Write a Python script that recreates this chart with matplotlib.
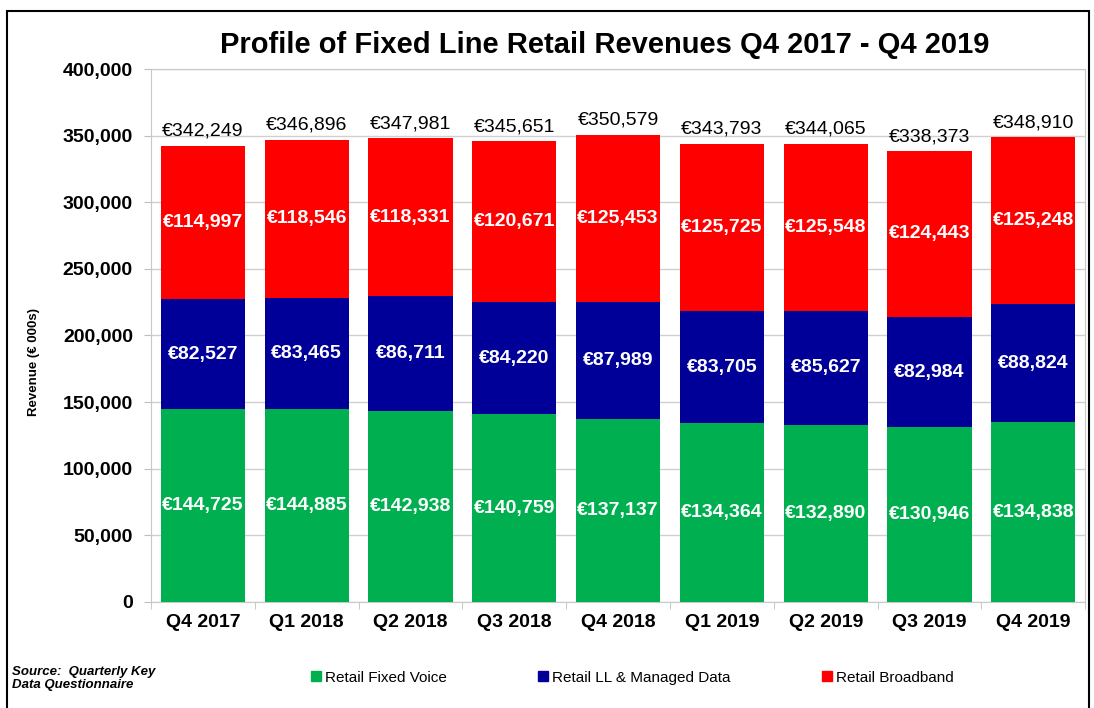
import matplotlib
matplotlib.use('Agg')
import matplotlib.pyplot as plt
from matplotlib.lines import Line2D
from matplotlib.patches import Rectangle
import numpy as np

plt.rcParams['font.family'] = ['Liberation Sans', 'DejaVu Sans']

quarters = ['Q4 2017', 'Q1 2018', 'Q2 2018', 'Q3 2018', 'Q4 2018',
            'Q1 2019', 'Q2 2019', 'Q3 2019', 'Q4 2019']
fixed_voice = [144725, 144885, 142938, 140759, 137137, 134364, 132890, 130946, 134838]
ll_managed = [82527, 83465, 86711, 84220, 87989, 83705, 85627, 82984, 88824]
broadband = [114997, 118546, 118331, 120671, 125453, 125725, 125548, 124443, 125248]
totals = [342249, 346896, 347981, 345651, 350579, 343793, 344065, 338373, 348910]

series_names = ['Retail Fixed Voice', 'Retail LL & Managed Data', 'Retail Broadband']
colors = ['#00B050', '#000099', '#FF0000']

fig = plt.figure(figsize=(10.94, 7.08), dpi=100)
ax = fig.add_axes([0.138, 0.150, 0.854, 0.7525])

x = np.arange(len(quarters))
w = 0.81
bottom = np.zeros(len(quarters))
for vals, col in zip([fixed_voice, ll_managed, broadband], colors):
    vals = np.array(vals)
    ax.bar(x, vals, w, bottom=bottom, color=col, zorder=3)
    for xi, b, v in zip(x, bottom, vals):
        ax.text(xi, b + v / 2, '€{:,}'.format(v), ha='center', va='center',
                color='white', fontsize=14, fontweight='bold', zorder=4)
    bottom += vals

for xi, t in zip(x, totals):
    ax.text(xi, t + 4500, '€{:,}'.format(t), ha='center', va='bottom',
            color='black', fontsize=14, zorder=4)

ax.set_xlim(-0.5, len(quarters) - 0.5)
ax.set_ylim(0, 400000)
ax.set_yticks(np.arange(0, 400001, 50000))
ax.set_yticklabels(['{:,}'.format(v) for v in range(0, 400001, 50000)],
                   fontsize=14, fontweight='bold')
ax.set_xticks(x)
ax.set_xticklabels(quarters, fontsize=14, fontweight='bold')
ax.set_xticks(np.arange(-0.5, len(quarters)), minor=True)
ax.tick_params(axis='x', which='major', length=0, pad=9)
ax.tick_params(axis='x', which='minor', length=5, color='#bfbfbf')
ax.tick_params(axis='y', length=5, color='#bfbfbf', pad=8)
ax.grid(axis='y', color='#d0d0d0', linewidth=1, zorder=0)
for s in ax.spines.values():
    s.set_color('#c8c8c8')

fig.text(0.031, 1 - 362 / 708, 'Revenue (€ 000s)', rotation=90, ha='center',
         va='center', fontsize=9.5, fontweight='bold')

fig.text(0.553, 0.936, 'Profile of Fixed Line Retail Revenues Q4 2017 - Q4 2019',
         ha='center', va='center', fontsize=21, fontweight='bold')

handles = [Line2D([], [], marker='s', linestyle='none', color=c, markersize=6.5)
           for c in colors]
fig.legend(handles, series_names, loc='center', bbox_to_anchor=(0.578, 0.043),
           ncol=3, frameon=False, fontsize=11, handlelength=0.6,
           handletextpad=0.3, columnspacing=6.0)

fig.text(0.011, 0.042, 'Source:  Quarterly Key\nData Questionnaire', ha='left',
         va='center', fontsize=9.5, fontstyle='italic', fontweight='bold',
         linespacing=1.1)

fig.patches.append(Rectangle((0.0065, -0.05), 0.989, 1.034, transform=fig.transFigure,
                             fill=False, edgecolor='black', linewidth=1.5))

fig.savefig('out.png', dpi=100)
